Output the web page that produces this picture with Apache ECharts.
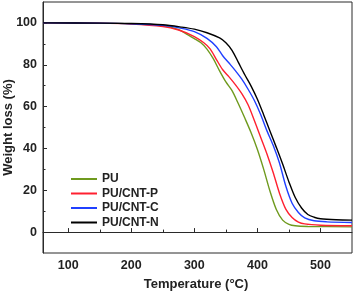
<!DOCTYPE html>
<html><head><meta charset="utf-8">
<script src="https://cdn.jsdelivr.net/npm/echarts@6/dist/echarts.min.js"></script>
<style>html,body{margin:0;padding:0;background:#fff}#c{width:354px;height:292px}</style>
</head><body><div id="c"></div>
<script>
const seriesNames = ['PU', 'PU/CNT-P', 'PU/CNT-C', 'PU/CNT-N'];
const puT = [60, 150, 200, 250, 275, 290, 300, 310, 320, 330, 340, 350, 360, 370, 380, 390, 400, 410, 420, 430, 440, 450, 460, 480, 550];
const puW = [100, 99.9, 99.6, 98.7, 96.8, 94.3, 92.5, 90.6, 87.5, 82.9, 77.1, 71.8, 67.5, 61.2, 54.5, 47.5, 39.5, 30, 19.5, 10.8, 5.7, 3.7, 3.0, 2.7, 2.5];
const pT  = [60, 150, 200, 250, 275, 300, 315, 325, 335, 345, 355, 365, 375, 385, 395, 405, 415, 425, 435, 445, 455, 465, 475, 500, 550];
const pW  = [100, 99.9, 99.5, 98.3, 96.6, 93.5, 90.5, 87.6, 82.5, 77.6, 74.2, 70.5, 66.3, 61, 53.5, 45.5, 37.5, 28.5, 18.6, 11, 7, 4.8, 3.9, 3.3, 3.0];
const cT  = [60, 150, 200, 250, 280, 300, 320, 335, 345, 355, 365, 375, 385, 395, 405, 415, 425, 435, 445, 455, 465, 475, 490, 510, 550];
const cW  = [100, 99.9, 99.6, 98.8, 97.4, 95.8, 92.6, 88.6, 84.3, 80.8, 77.2, 73.2, 68.4, 63, 56.3, 48.5, 41.5, 33, 22, 13.8, 9.4, 6.8, 5.4, 4.9, 4.6];
const nT  = [60, 150, 200, 250, 280, 300, 320, 340, 350, 360, 370, 380, 390, 400, 410, 420, 430, 440, 450, 460, 470, 480, 490, 500, 525, 550];
const nW  = [100, 99.9, 99.7, 99.1, 98, 97, 95.3, 92.8, 90.5, 86.8, 81, 75.2, 69.8, 63.5, 56, 48.2, 40.5, 32.5, 24, 16.5, 11.5, 8.4, 7.1, 6.4, 5.9, 5.7];
const xTicks = [100, 200, 300, 400, 500];
const xMinor = [150, 250, 350, 450];
const yTicks = [0, 20, 40, 60, 80, 100];
const yMinor = [10, 30, 50, 70, 90];
const colors = ['#6f9a1e', '#ff2030', '#2040ff', '#000000'];

const zip = (a, b) => a.map((v, i) => [v, b[i]]);
const datasets = [zip(puT, puW), zip(pT, pW), zip(cT, cW), zip(nT, nW)];
const axColor = '#2a2a2a';
const font = 'Liberation Sans, Arial, sans-serif';

const chart = echarts.init(document.getElementById('c'));
chart.setOption({
  animation: false,
  backgroundColor: '#fff',
  grid: {left: 43, right: 2, top: 2, bottom: 39, show: true, borderColor: axColor, borderWidth: 1,
         containLabel: false, outerBoundsMode: 'none'},
  legend: {
    orient: 'vertical', left: 66, top: 168, itemWidth: 26, itemHeight: 2, itemGap: 2.5,
    icon: 'rect',
    textStyle: {fontFamily: font, fontWeight: 'bold', fontSize: 12, color: '#222'},
    data: seriesNames
  },
  xAxis: [{
    type: 'value', min: 60, max: 550,
    name: 'Temperature (°C)', nameLocation: 'middle', nameGap: 25,
    nameTextStyle: {fontFamily: font, fontWeight: 'bold', fontSize: 13, color: '#222', padding: [0, 3, 0, 0]},
    axisLine: {lineStyle: {color: axColor, width: 1}},
    axisTick: {inside: true, length: 4, customValues: xTicks, lineStyle: {color: axColor}},
    axisLabel: {customValues: xTicks, margin: 6, fontFamily: font, fontWeight: 'bold', fontSize: 12.5, color: '#222'},
    splitLine: {show: false}
  }, {
    type: 'value', min: 60, max: 550, position: 'bottom',
    axisLine: {show: false},
    axisTick: {inside: true, length: 2.5, customValues: xMinor, lineStyle: {color: axColor}},
    axisLabel: {show: false}, splitLine: {show: false}
  }],
  yAxis: [{
    type: 'value', min: -10, max: 110,
    name: 'Weight loss (%)', nameLocation: 'middle', nameGap: 28, nameMoveOverlap: false,
    nameTextStyle: {fontFamily: font, fontWeight: 'bold', fontSize: 13, color: '#222'},
    axisLine: {show: true, lineStyle: {color: axColor, width: 1}},
    axisTick: {show: true, inside: true, length: 4, customValues: yTicks, lineStyle: {color: axColor}},
    axisLabel: {customValues: yTicks, margin: 6, fontFamily: font, fontWeight: 'bold', fontSize: 12.5, color: '#222'},
    splitLine: {show: false}
  }, {
    type: 'value', min: -10, max: 110, position: 'left',
    axisLine: {show: false},
    axisTick: {show: true, inside: true, length: 2.5, customValues: yMinor, lineStyle: {color: axColor}},
    axisLabel: {show: false}, splitLine: {show: false}
  }],
  series: seriesNames.map((n, i) => ({
    name: n, type: 'line', data: datasets[i], smooth: 0.3,
    showSymbol: false, symbol: 'none', color: colors[i],
    lineStyle: {width: 1.4, color: colors[i]}, z: 2 + i
  }))
});
</script></body></html>
